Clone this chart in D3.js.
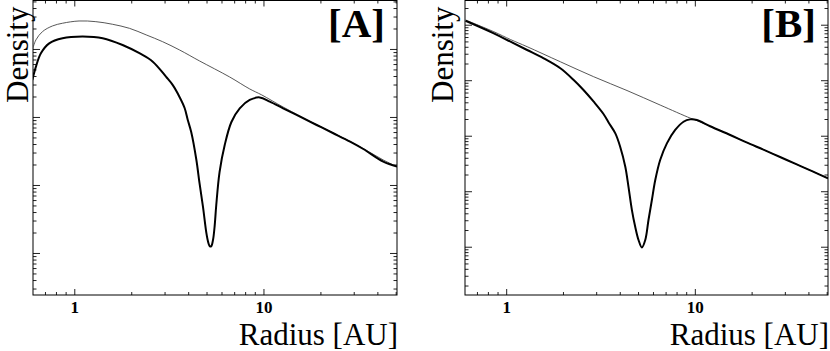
<!DOCTYPE html>
<html>
<head>
<meta charset="utf-8">
<script src="https://cdnjs.cloudflare.com/ajax/libs/d3/7.8.5/d3.min.js"></script>
<style>
    body { margin: 0; background: #fff; }
    svg { display: block; background: #fff; }
    text { font-family: 'Liberation Serif', 'Times New Roman', serif; fill: #000; }
</style>
</head>
<body>
<svg id="chart" width="830" height="351"></svg>
<script>
'use strict';

// panel A: unperturbed disc (thin) and disc with gap (thick)
var radiusThinA = [0.6, 0.627, 0.679, 0.767, 0.867, 1.06, 1.30, 1.59, 1.96, 2.40, 2.93, 3.60,
    4.59, 6.62, 8.46, 9.79, 12.7, 15.6, 19.1, 23.4, 28.7, 35.1, 43.0, 50.8];
var densityThinA = [0.967, 1.36, 1.80, 2.18, 2.39, 2.58, 2.52, 2.31, 2.01, 1.61, 1.28, 0.967,
    0.667, 0.388, 0.258, 0.211, 0.140, 0.1035, 0.0776, 0.0582, 0.0436, 0.0322, 0.0233, 0.0186];

var radiusThickA = [0.6, 0.627, 0.666, 0.737, 0.867, 1.106, 1.413, 1.80, 2.21, 2.60, 3.06, 3.31,
    3.60, 3.83, 3.98, 4.15, 4.42, 4.59, 4.79, 4.99, 5.10, 5.19, 5.29, 5.41, 5.52, 5.63, 5.86,
    6.24, 6.77, 7.49, 8.46, 9.56, 10.8, 12.7, 15.6, 19.1, 23.4, 28.7, 33.7, 43.0, 50.8];
var densityThickA = [0.350, 0.549, 0.865, 1.21, 1.44, 1.52, 1.44, 1.145, 0.865, 0.650, 0.388, 0.296,
    0.197, 0.1356, 0.0903, 0.0601, 0.0233, 0.0107, 0.00475, 0.00197, 0.00145, 0.00127, 0.00125,
    0.00155, 0.00249, 0.00508, 0.0155, 0.0387, 0.0844, 0.134, 0.178, 0.194, 0.168, 0.134, 0.101,
    0.0762, 0.0576, 0.0433, 0.0338, 0.0220, 0.0186];

// panel B
var radiusThinB = [0.609, 0.860, 1.054, 1.291, 1.937, 2.91, 4.37, 6.55, 9.44, 10.25, 12.05, 15.4,
    18.8, 23.1, 28.3, 34.7, 42.4, 50.8];
var densityThinB = [1.215, 0.748, 0.541, 0.402, 0.215, 0.1156, 0.0652, 0.0357, 0.0208, 0.0188,
    0.01483, 0.01030, 0.00757, 0.00560, 0.00413, 0.00304, 0.00225, 0.00171];

var radiusThickB = [0.609, 0.860, 1.054, 1.291, 1.58, 1.937, 2.28, 2.57, 2.91, 3.28, 3.49, 3.79,
    4.02, 4.28, 4.45, 4.64, 4.83, 5.03, 5.24, 5.46, 5.68, 5.92, 6.17, 6.55, 7.11, 7.87, 8.71,
    9.44, 10.25, 12.05, 15.4, 18.8, 23.1, 28.3, 34.7, 42.4, 50.8];
var densityThickB = [1.18, 0.700, 0.494, 0.350, 0.248, 0.164, 0.1008, 0.0666, 0.0410, 0.0246, 0.0173,
    0.0110, 0.00634, 0.00276, 0.00120, 4.58e-4, 2.29e-4, 1.32e-4, 9.68e-5, 1.32e-4, 3.03e-4,
    6.94e-4, 0.00159, 0.00365, 0.00729, 0.01268, 0.01787, 0.0197, 0.0192, 0.01483, 0.01030,
    0.00757, 0.00560, 0.00413, 0.00304, 0.00225, 0.00171];

var panelLabels = ['[A]', '[B]'];
var xTickLabels = ['1', '10'];
var xAxisTitle = 'Radius [AU]';
var yAxisTitle = 'Density';

var radiusDomain = [0.605, 50.8];
var densityDomainA = [2.41e-4, 5.16];
var densityDomainB = [1.35e-5, 2.73];

var svg = d3.select('#chart');

var panels = [
    {label: panelLabels[0], rThin: radiusThinA, dThin: densityThinA, rThick: radiusThickA,
        dThick: densityThickA, yDomain: densityDomainA, left: 33, right: 397, ylabelX: 27.8},
    {label: panelLabels[1], rThin: radiusThinB, dThin: densityThinB, rThick: radiusThickB,
        dThick: densityThickB, yDomain: densityDomainB, left: 465, right: 828, ylabelX: 453}
];

var plotTop = 0.5,
    plotBottom = 295;

function isMajor(v) {
    var l = Math.log10(v);
    return Math.abs(l - Math.round(l)) < 1e-6;
}

function toPoints(rs, ds) {
    return rs.map(function(r, i) { return [r, ds[i]]; });
}

panels.forEach(function(p, idx) {
    var x = d3.scaleLog().domain(radiusDomain).range([p.left, p.right]);
    var y = d3.scaleLog().domain(p.yDomain).range([plotBottom, plotTop]);

    var g = svg.append('g').attr('class', 'panel');

    var clipId = 'clip' + idx;
    svg.append('clipPath').attr('id', clipId)
        .append('rect')
        .attr('x', p.left).attr('y', plotTop)
        .attr('width', p.right - p.left).attr('height', plotBottom - plotTop);

    var xAll = x.ticks(),
        xMajor = xAll.filter(isMajor),
        xMinor = xAll.filter(function(v) { return !isMajor(v); });
    var yAll = y.ticks(),
        yMajor = yAll.filter(isMajor),
        yMinor = yAll.filter(function(v) { return !isMajor(v); });

    // ticks, all pointing inward
    var axes = [
        g.append('g').attr('transform', 'translate(0,' + plotBottom + ')')
            .call(d3.axisBottom(x).tickValues(xMinor).tickSize(-3).tickFormat('')),
        g.append('g').attr('transform', 'translate(0,' + plotTop + ')')
            .call(d3.axisTop(x).tickValues(xMinor).tickSize(-3).tickFormat('')),
        g.append('g').attr('transform', 'translate(0,' + plotTop + ')')
            .call(d3.axisTop(x).tickValues(xMajor).tickSize(-6).tickFormat('')),
        g.append('g').attr('transform', 'translate(' + p.left + ',0)')
            .call(d3.axisLeft(y).tickValues(yMinor).tickSize(-3.5).tickFormat('')),
        g.append('g').attr('transform', 'translate(' + p.left + ',0)')
            .call(d3.axisLeft(y).tickValues(yMajor).tickSize(-7).tickFormat('')),
        g.append('g').attr('transform', 'translate(' + p.right + ',0)')
            .call(d3.axisRight(y).tickValues(yMinor).tickSize(-3.5).tickFormat('')),
        g.append('g').attr('transform', 'translate(' + p.right + ',0)')
            .call(d3.axisRight(y).tickValues(yMajor).tickSize(-7).tickFormat(''))
    ];

    var bottomMajor = g.append('g').attr('transform', 'translate(0,' + plotBottom + ')')
        .call(d3.axisBottom(x).tickValues(xMajor).tickSize(-6).tickPadding(6)
            .tickFormat(function(d, i) { return xTickLabels[i]; }));
    axes.push(bottomMajor);

    axes.forEach(function(a) {
        a.select('.domain').remove();
        a.selectAll('line').attr('stroke', '#222').attr('stroke-width', 1);
    });
    bottomMajor.selectAll('text')
        .attr('dy', null)
        .attr('y', 18)
        .style('font-family', "'Liberation Serif', serif")
        .style('font-weight', 'bold')
        .style('font-size', '17px')
        .attr('fill', '#000');

    // frame
    g.append('rect')
        .attr('x', p.left).attr('y', plotTop)
        .attr('width', p.right - p.left).attr('height', plotBottom - plotTop)
        .attr('fill', 'none').attr('stroke', '#000').attr('stroke-width', 1);

    var line = d3.line()
        .x(function(d) { return x(d[0]); })
        .y(function(d) { return y(d[1]); })
        .curve(d3.curveCatmullRom.alpha(0.5));

    var curves = g.append('g').attr('clip-path', 'url(#' + clipId + ')');
    curves.append('path')
        .attr('d', line(toPoints(p.rThin, p.dThin)))
        .attr('fill', 'none').attr('stroke', '#444').attr('stroke-width', 0.9);
    curves.append('path')
        .attr('d', line(toPoints(p.rThick, p.dThick)))
        .attr('fill', 'none').attr('stroke', '#000').attr('stroke-width', 2)
        .attr('stroke-linejoin', 'round');

    // texts
    g.append('text')
        .attr('transform', 'translate(' + p.ylabelX + ',103) rotate(-90)')
        .style('font-size', '31px')
        .text(yAxisTitle);

    g.append('text')
        .attr('x', p.right + 1).attr('y', 344.5)
        .attr('text-anchor', 'end')
        .style('font-size', '31px')
        .text(xAxisTitle);

    g.append('text')
        .attr('x', p.right - 12).attr('y', 37)
        .attr('text-anchor', 'end')
        .style('font-size', '41px')
        .style('font-weight', 'bold')
        .text(p.label);
});
</script>
</body>
</html>
